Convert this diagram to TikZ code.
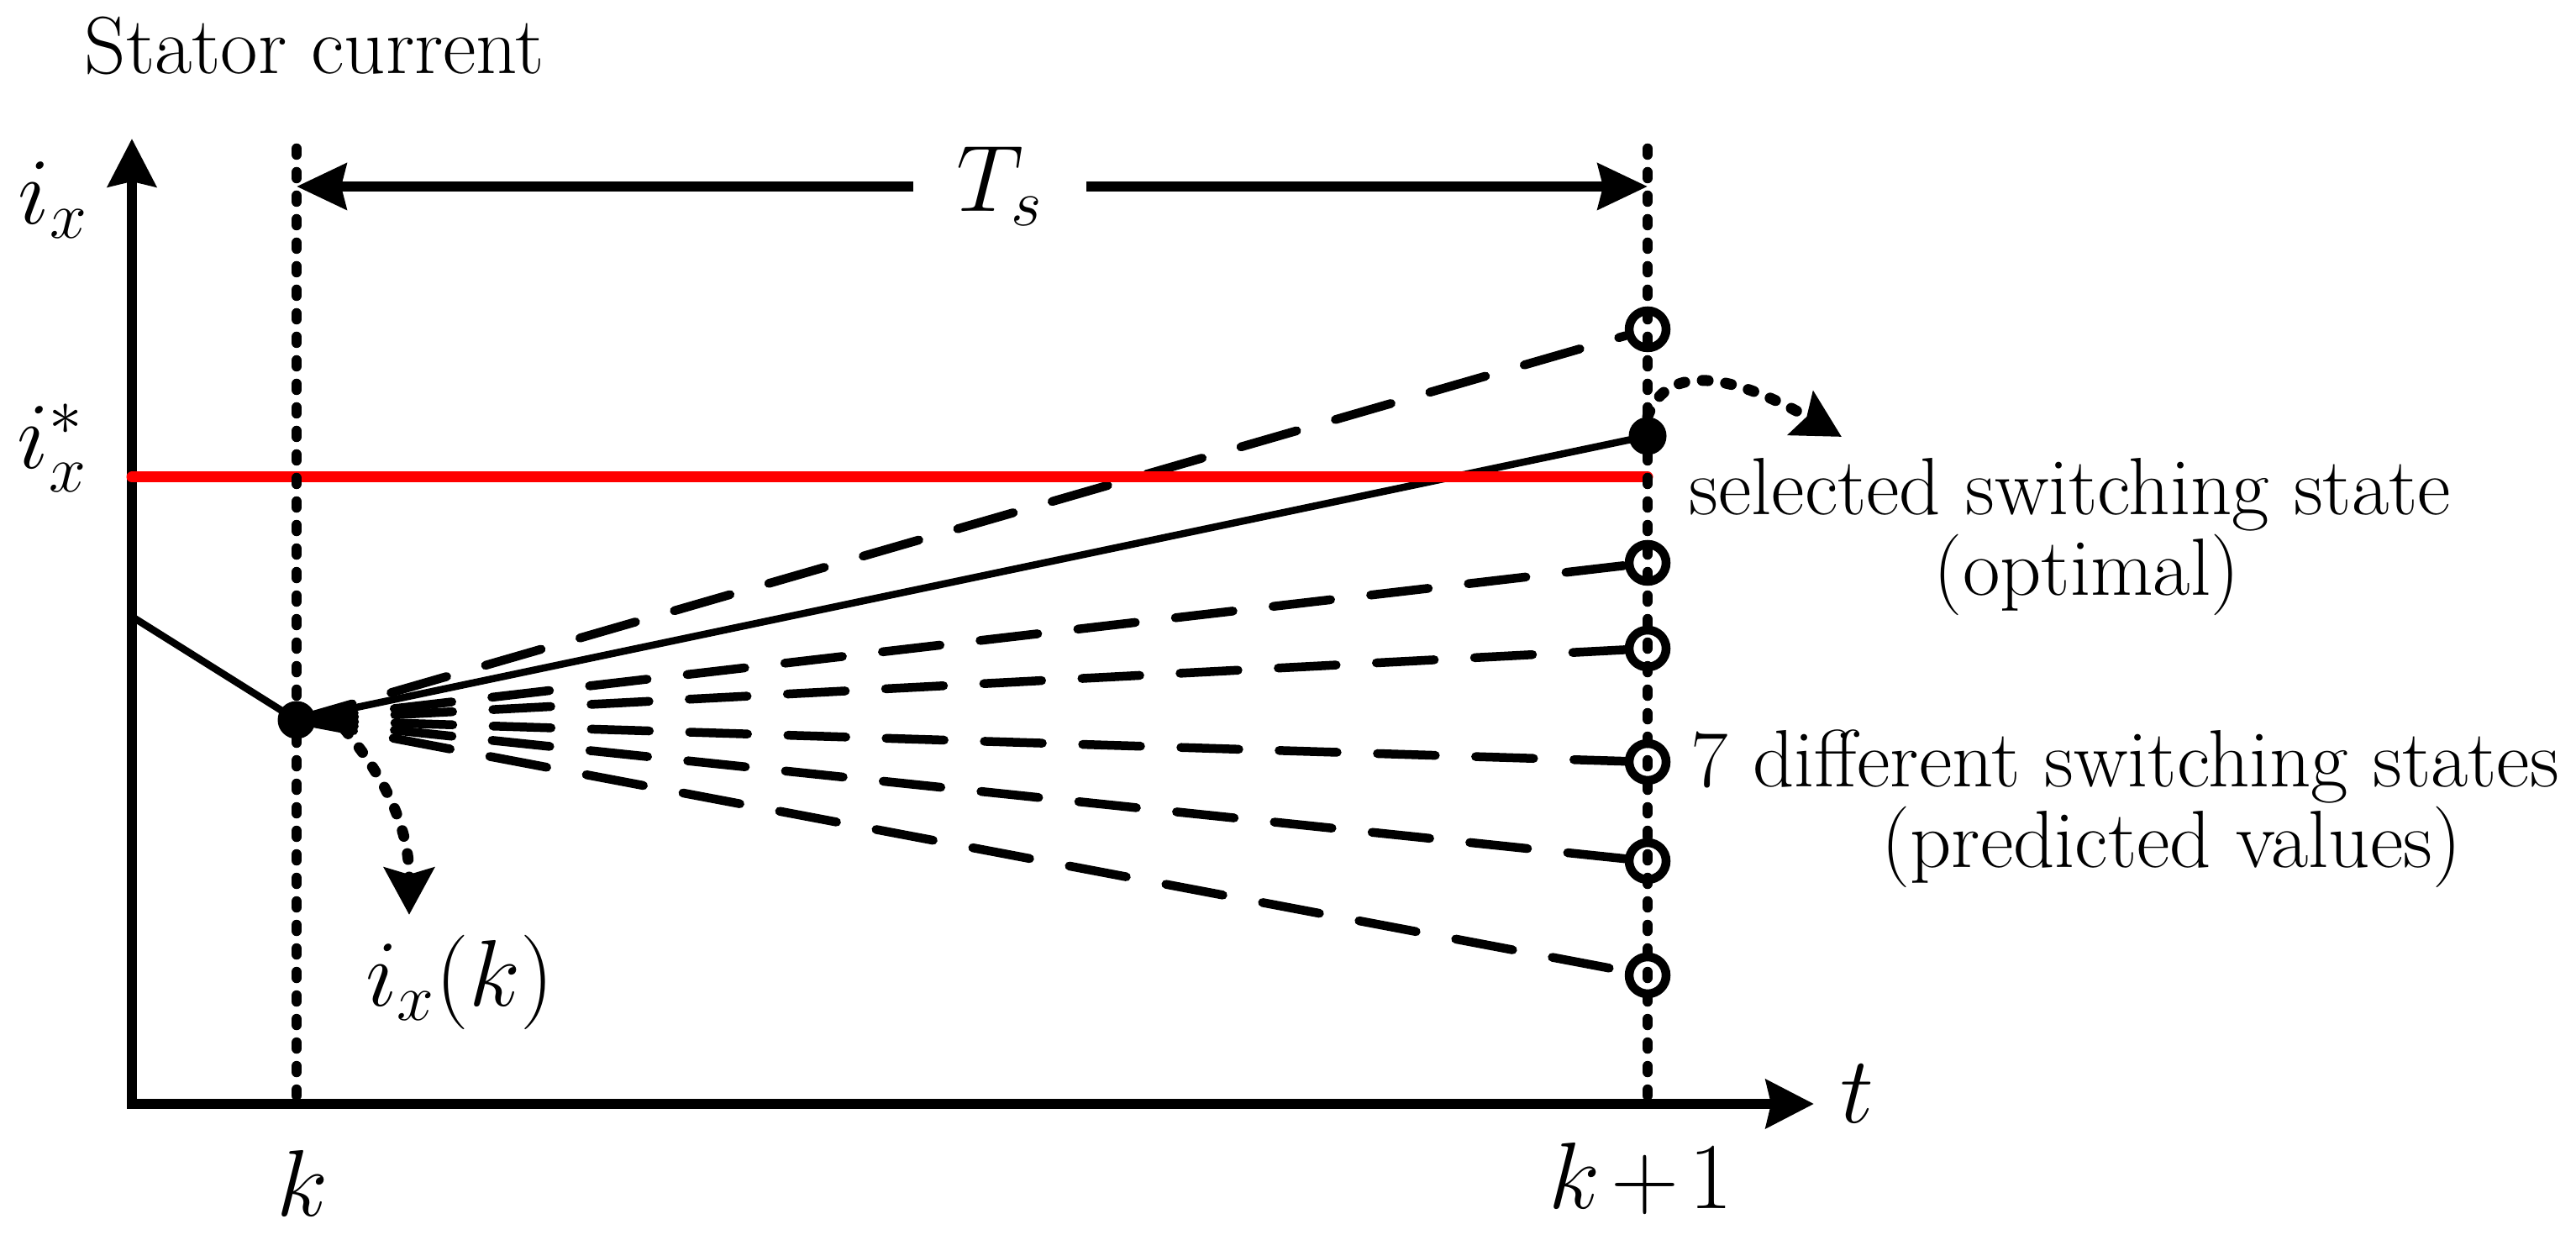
\RequirePackage{fix-cm}
\documentclass[tikz,border=0pt]{standalone}
\usepackage{tikz}
\usetikzlibrary{arrows.meta,calc}

\newcommand{\bigtxt}{\fontsize{27.5}{26}\selectfont}
\newcommand{\bigmath}{\fontsize{32}{38}\selectfont}

\begin{document}
\begin{tikzpicture}[
  axisline/.style={line width=1.2mm,{Stealth[length=5.7mm,width=5.7mm,inset=0.6mm]}-{Stealth[length=5.7mm,width=5.7mm,inset=0.6mm]}},
  span/.style={line width=1.2mm,-{Stealth[length=5.9mm,width=5.4mm,inset=0.6mm]}},
  gridline/.style={line width=1.25mm,line cap=round,dash pattern=on 0.07cm off 0.21cm},
  guess/.style={line width=1.05mm,line cap=round,dash pattern=on 0.69cm off 0.48cm},
  best/.style={line width=0.85mm,line join=round},
  refline/.style={red,line width=1.3mm,line cap=round},
  pick/.style={line width=1.3mm,line cap=round,dash pattern=on 0.07cm off 0.21cm,-{Stealth[length=5.6mm,width=5.9mm,inset=0.8mm]}},
  fulldot/.style={circle,fill=black,minimum size=0.45cm,inner sep=0pt},
  opendot/.style={circle,draw,fill=white,line width=1.05mm,minimum size=0.44cm,inner sep=0pt},
  lbl/.style={inner sep=0pt,font=\bigtxt},
  sym/.style={inner sep=0pt,font=\bigmath}]
\useasboundingbox (-1.57,-1.62) rectangle (29.09,13.14);
\def\kx{1.96}
\def\kkx{18.04}
\coordinate (o) at (0,0);
\coordinate (ytip) at (0,11.49);
\coordinate (xtip) at (20.02,0);
\coordinate (ktop) at (\kx,11.37);
\coordinate (kbot) at (\kx,0);
\coordinate (k1top) at (\kkx,11.37);
\coordinate (k1bot) at (\kkx,0);
\coordinate (istart) at (0,5.80);
\coordinate (iref) at (0,7.46);
\draw[axisline] (ytip)--(o)--(xtip);
\node[fulldot] (dotk) at (\kx,4.57) {};
\node[fulldot] (dotk1) at (\kkx,7.95) {};
\foreach \n/\y in {c1/9.22,c2/6.44,c3/5.42,c4/4.07,c5/2.89,c6/1.53}{
\node[opendot] (\n) at (\kkx,\y) {};
}
\draw[best] (istart)--(dotk.center)--(dotk1.center);
\foreach \n in {c1,c2,c3,c4,c5,c6}{
\draw[guess] (dotk.center)--(\n);
}
\draw[refline] (iref)--(iref -| k1top);
\draw[gridline] (ktop)--(kbot);
\draw[gridline] (k1top)--(k1bot);
\node[sym,minimum width=2.05cm] (ts) at (10.33,10.92) {$T_s$};
\draw[span] (ts.west)--(ts.west -| ktop);
\draw[span] (ts.east)--(ts.east -| k1top);
\node[lbl,anchor=base west] (title) at (-0.57,12.26) {Stator current};
\node[sym,anchor=base west] (ix) at (-1.36,10.47) {$i_x$};
\node[sym,anchor=base west] (ixref) at (-1.37,7.56) {$i_x^*$};
\node[sym,anchor=base] (klab) at (2.03,-1.34) {$k$};
\node[sym,anchor=base] (k1lab) at (17.96,-1.25) {$k\mkern2mu{+}\mkern2mu1$};
\node[sym,anchor=base west] (tlab) at (20.33,-0.23) {$t$};
\node[sym,anchor=base] (ixk) at (3.90,1.16) {$i_x(k)$};
\node[lbl,anchor=north west,align=center] (sel) at (18.53,7.69) {selected switching state\\\hspace*{4mm}(optimal)};
\node[lbl,anchor=north west,align=center] (pred) at (18.55,4.46) {7 different switching states\\\hspace*{11mm}(predicted values)};
\coordinate (kfrom) at (2.53,4.46);
\coordinate (ktip) at (3.30,2.25);
\coordinate (k1tip) at (20.35,7.94);
\draw[pick] (kfrom) to[out=-50,in=90] (ktip);
\draw[pick] (dotk1.north) to[out=70,in=150] (k1tip);
\end{tikzpicture}
\end{document}
